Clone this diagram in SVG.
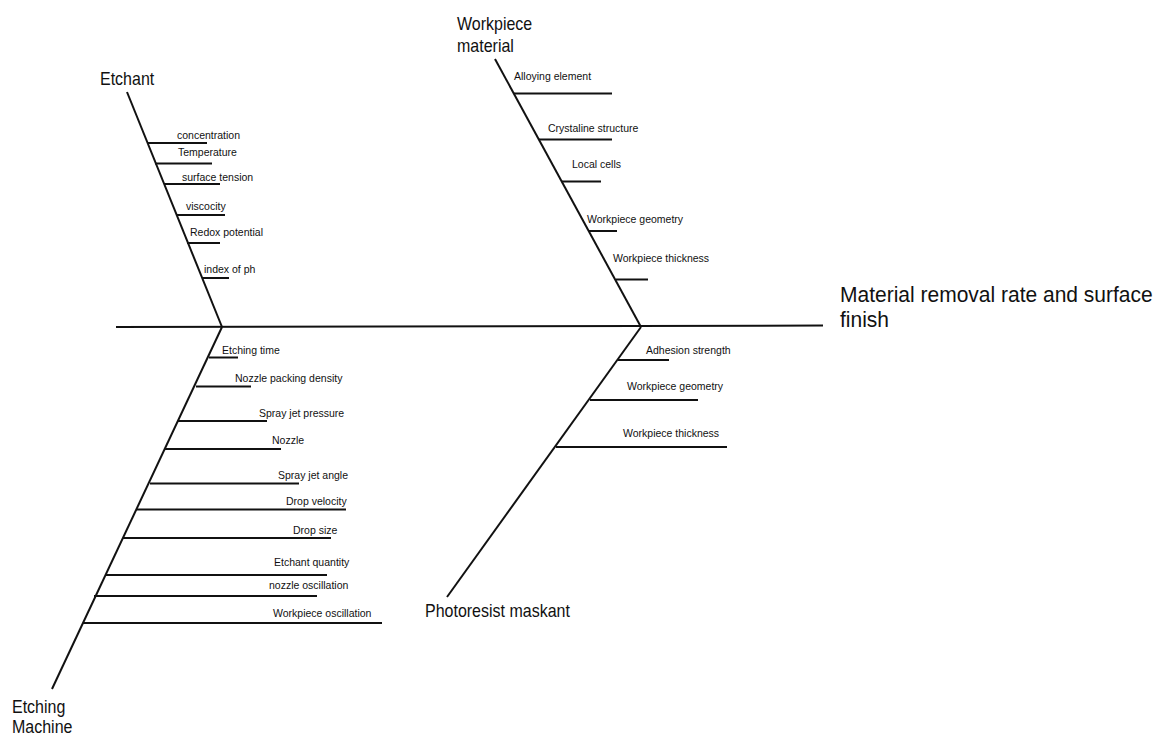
<svg xmlns="http://www.w3.org/2000/svg" width="1158" height="738" viewBox="0 0 1158 738">
<style>
.ln{stroke:#111;stroke-width:2;fill:none;stroke-linecap:butt}
.s{font-family:"Liberation Sans",Arial,sans-serif;font-size:10.5px;fill:#111}
.b{font-family:"Liberation Sans",Arial,sans-serif;font-size:16px;fill:#111}
.t{font-family:"Liberation Sans",Arial,sans-serif;font-size:21px;fill:#111}
</style>
<rect width="1158" height="738" fill="#fff"/>
<g id="connectors">
<line class="ln" x1="116" y1="327" x2="823" y2="325.5"/>
<line class="ln" x1="127" y1="92" x2="222" y2="327"/>
<line class="ln" x1="495" y1="59" x2="641" y2="327"/>
<line class="ln" x1="222" y1="327" x2="52" y2="689"/>
<line class="ln" x1="641" y1="327" x2="447" y2="597"/>
</g>
<g id="effect">
<text class="t" transform="translate(840,302) scale(1,1.02)">Material removal rate and surface</text>
<text class="t" transform="translate(840,327) scale(1,1.02)">finish</text>
</g>
<g id="etchant">
<text class="b" transform="translate(100,85) scale(1,1.15)">Etchant</text>
<g id="etchant-concentration"><line class="ln" x1="148" y1="143" x2="207" y2="143"/><text class="s" x="177" y="139">concentration</text></g>
<g id="etchant-temperature"><line class="ln" x1="155" y1="163.5" x2="212" y2="163.5"/><text class="s" x="178" y="156">Temperature</text></g>
<g id="etchant-surface-tension"><line class="ln" x1="164" y1="184" x2="220" y2="184"/><text class="s" x="182" y="180.5">surface tension</text></g>
<g id="etchant-viscocity"><line class="ln" x1="177" y1="215" x2="225" y2="215"/><text class="s" x="186" y="210">viscocity</text></g>
<g id="etchant-redox"><line class="ln" x1="187" y1="243" x2="220" y2="243"/><text class="s" x="190" y="236">Redox potential</text></g>
<g id="etchant-ph"><line class="ln" x1="202" y1="278" x2="229" y2="278"/><text class="s" x="204" y="273">index of ph</text></g>
</g>
<g id="workpiece-material">
<text class="b" transform="translate(457,30) scale(1,1.15)">Workpiece</text>
<text class="b" transform="translate(457,52) scale(1,1.15)">material</text>
<g id="wm-alloying"><line class="ln" x1="514" y1="93.5" x2="612" y2="93.5"/><text class="s" x="514" y="80">Alloying element</text></g>
<g id="wm-crystaline"><line class="ln" x1="539" y1="139.5" x2="612" y2="139.5"/><text class="s" x="548" y="131.5">Crystaline structure</text></g>
<g id="wm-local-cells"><line class="ln" x1="562" y1="181.5" x2="601" y2="181.5"/><text class="s" x="572" y="168">Local cells</text></g>
<g id="wm-geometry"><line class="ln" x1="589" y1="231" x2="617" y2="231"/><text class="s" x="587" y="223">Workpiece geometry</text></g>
<g id="wm-thickness"><line class="ln" x1="616" y1="279.5" x2="648" y2="279.5"/><text class="s" x="613" y="261.5">Workpiece thickness</text></g>
</g>
<g id="etching-machine">
<text class="b" transform="translate(12,713) scale(1,1.12)">Etching</text>
<text class="b" transform="translate(12,733) scale(1,1.12)">Machine</text>
<g id="em-time"><line class="ln" x1="209" y1="357.5" x2="238" y2="357.5"/><text class="s" x="222" y="354">Etching time</text></g>
<g id="em-packing"><line class="ln" x1="196" y1="386.5" x2="251" y2="386.5"/><text class="s" x="235" y="381.5">Nozzle packing density</text></g>
<g id="em-pressure"><line class="ln" x1="178" y1="421" x2="267" y2="421"/><text class="s" x="259" y="416.5">Spray jet pressure</text></g>
<g id="em-nozzle"><line class="ln" x1="165" y1="449" x2="281" y2="449"/><text class="s" x="272" y="443.5">Nozzle</text></g>
<g id="em-angle"><line class="ln" x1="150" y1="483.5" x2="299" y2="483.5"/><text class="s" x="278" y="478.5">Spray jet angle</text></g>
<g id="em-velocity"><line class="ln" x1="136" y1="509.5" x2="346" y2="509.5"/><text class="s" x="286" y="505">Drop velocity</text></g>
<g id="em-size"><line class="ln" x1="123" y1="538" x2="331" y2="538"/><text class="s" x="293" y="533.5">Drop size</text></g>
<g id="em-quantity"><line class="ln" x1="105" y1="575" x2="327" y2="575"/><text class="s" x="274" y="566">Etchant quantity</text></g>
<g id="em-nozzle-osc"><line class="ln" x1="94" y1="596" x2="317" y2="596"/><text class="s" x="269" y="588.5">nozzle oscillation</text></g>
<g id="em-workpiece-osc"><line class="ln" x1="83" y1="623" x2="382" y2="623"/><text class="s" x="273" y="617">Workpiece oscillation</text></g>
</g>
<g id="photoresist-maskant">
<text class="b" transform="translate(425,617) scale(1,1.15)">Photoresist maskant</text>
<g id="pm-adhesion"><line class="ln" x1="618" y1="360" x2="669" y2="360"/><text class="s" x="646" y="353.5">Adhesion strength</text></g>
<g id="pm-geometry"><line class="ln" x1="590" y1="400" x2="698" y2="400"/><text class="s" x="627" y="390">Workpiece geometry</text></g>
<g id="pm-thickness"><line class="ln" x1="556" y1="447" x2="727" y2="447"/><text class="s" x="623" y="437">Workpiece thickness</text></g>
</g>
</svg>
